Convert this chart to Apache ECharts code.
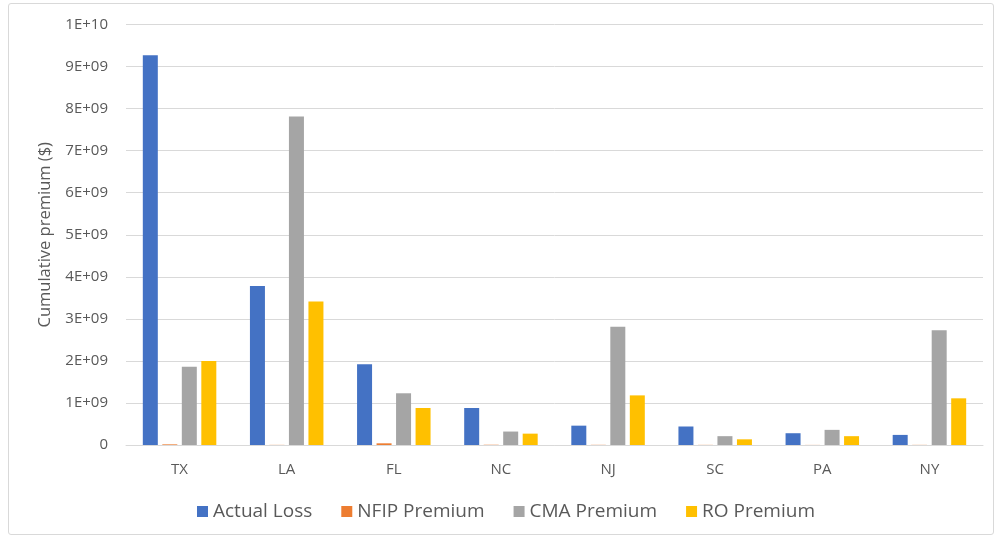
<!DOCTYPE html>
<html>
<head>
<meta charset="utf-8">
<title>Cumulative premium by state</title>
<script src="https://cdn.jsdelivr.net/npm/echarts@6/dist/echarts.min.js"></script>
<style>
  html, body { margin: 0; padding: 0; background: #ffffff; }
  #frame {
    position: absolute; left: 8px; top: 3px; width: 986px; height: 532px;
    border: 1px solid #d9d9d9; border-radius: 3px; box-sizing: border-box;
  }
  #chart { position: absolute; left: 0; top: 0; width: 995px; height: 541px; }
</style>
</head>
<body>
<div id="frame"></div>
<div id="chart"></div>
<script>
// States along the x axis
const states = ['TX', 'LA', 'FL', 'NC', 'NJ', 'SC', 'PA', 'NY'];

// Values in dollars
const actualLoss = [9.27e9, 3.78e9, 1.92e9, 0.88e9, 0.46e9, 0.44e9, 0.28e9, 0.24e9];
const nfipPremium = [0.015e9, 0.003e9, 0.04e9, 0.006e9, 0.004e9, 0.003e9, 0.002e9, 0.003e9];
const cmaPremium = [1.86e9, 7.81e9, 1.23e9, 0.32e9, 2.81e9, 0.21e9, 0.36e9, 2.73e9];
const roPremium = [2.0e9, 3.41e9, 0.88e9, 0.27e9, 1.18e9, 0.135e9, 0.21e9, 1.11e9];

// Y axis tick labels, one per 1E+09 step
const yTickLabels = ['0', '1E+09', '2E+09', '3E+09', '4E+09', '5E+09',
                     '6E+09', '7E+09', '8E+09', '9E+09', '1E+10'];

const seriesNames = ['Actual Loss', 'NFIP Premium', 'CMA Premium', 'RO Premium'];
const seriesColors = ['#4472C4', '#ED7D31', '#A5A5A5', '#FFC000'];
const seriesData = [actualLoss, nfipPremium, cmaPremium, roPremium];

const font = '"Open Sans", "Noto Sans", sans-serif';
const step = 1e9;

const chart = echarts.init(document.getElementById('chart'), null, { renderer: 'canvas' });

chart.setOption({
  animation: false,
  backgroundColor: 'transparent',
  textStyle: { fontFamily: font },
  grid: { left: 126, right: 12, top: 24.5, bottom: 96, containLabel: false },
  legend: {
    data: seriesNames,
    left: 192,
    top: 497,
    icon: 'rect',
    itemWidth: 11,
    itemHeight: 11,
    itemGap: 29,
    textStyle: { color: '#595959', fontSize: 19, fontFamily: font }
  },
  xAxis: {
    type: 'category',
    data: states,
    axisTick: { show: false },
    axisLine: { show: true, lineStyle: { color: '#d9d9d9', width: 1 } },
    axisLabel: { color: '#595959', fontSize: 15, margin: 17, fontFamily: font }
  },
  yAxis: {
    type: 'value',
    min: 0,
    max: 1e10,
    interval: step,
    name: 'Cumulative premium ($)',
    nameLocation: 'middle',
    nameGap: 72,
    nameTextStyle: { color: '#595959', fontSize: 16.5, fontFamily: font },
    axisLine: { show: false },
    axisTick: { show: false },
    splitLine: { lineStyle: { color: '#d9d9d9', width: 1 } },
    axisLabel: {
      color: '#595959',
      fontSize: 15,
      margin: 18,
      fontFamily: font,
      formatter: function (v) {
        const i = Math.round(v / step);
        return yTickLabels[i] !== undefined ? yTickLabels[i] : '';
      }
    }
  },
  series: seriesNames.map(function (name, k) {
    return {
      name: name,
      type: 'bar',
      data: seriesData[k],
      barWidth: 15,
      barGap: '30%',
      itemStyle: { color: seriesColors[k] }
    };
  })
});
</script>
</body>
</html>
